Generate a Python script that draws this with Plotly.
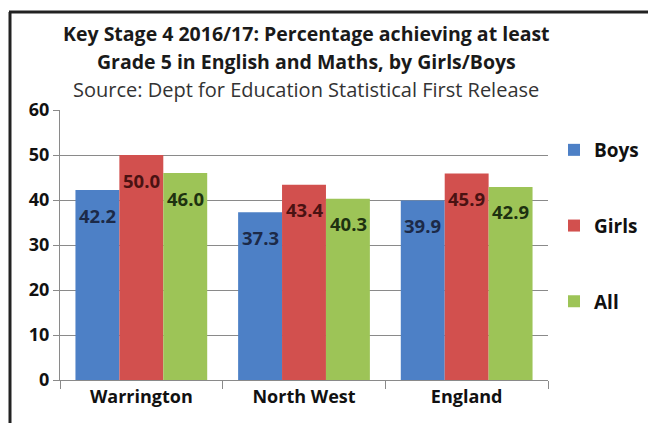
import plotly.graph_objects as go

# data
areas = ["Warrington", "North West", "England"]
boys = [42.2, 37.3, 39.9]
girls = [50.0, 43.4, 45.9]
all_pupils = [46.0, 40.3, 42.9]

series = [
    ("Boys", boys, "#4D80C6", "#1C2A48"),
    ("Girls", girls, "#D2504E", "#4A1212"),
    ("All", all_pupils, "#9DC457", "#1E3210"),
]

# the page puts the figure 8px in from the top-left corner
OFF = 8
W, H = 646, 415
L, T, R = 60 - OFF, 110 - OFF, 0
B = H - (380 - OFF)
PW, PH = W - L - R, H - T - B
PLOT_RIGHT = 548  # right end of the plot area in the reference


def px(xp):
    # reference x pixel -> paper coordinate
    return (xp - OFF - L) / PW


def py(yp):
    return (H - B - (yp - OFF)) / PH


FONT = "Open Sans"

fig = go.Figure()
for name, vals, col, txtcol in series:
    fig.add_trace(go.Bar(
        x=areas, y=vals, name=name, marker_color=col,
        marker_line_width=0, legendgroup=name,
    ))

# value labels, a little below the top of each bar
annotations = []
for i, (name, vals, col, txtcol) in enumerate(series):
    for a, v in zip(areas, vals):
        annotations.append(dict(
            x=a, y=v, xref="x", yref="y", text="<b>%.1f</b>" % v, showarrow=False,
            xshift=(i - 1) * 44, yshift=-25, yanchor="middle",
            font=dict(family=FONT, size=18.5, color=txtcol),
        ))

# title block
title_lines = [
    (33, "<b>Key Stage 4 2016/17: Percentage achieving at least</b>", 19.5, "#1a1a1a"),
    (62, "<b>Grade 5 in English and Maths, by Girls/Boys</b>", 19.5, "#1a1a1a"),
    (90, "Source: Dept for Education Statistical First Release", 20, "#333"),
]
for ypix, txt, size, col in title_lines:
    annotations.append(dict(
        x=px(306), y=py(ypix), xref="paper", yref="paper", showarrow=False,
        xanchor="center", yanchor="middle", text=txt,
        font=dict(family=FONT, size=size, color=col),
    ))

# frame lines around the picture
shapes = [
    dict(type="line", xref="paper", yref="paper", x0=px(10), x1=px(10), y0=py(430), y1=py(12),
         line=dict(color="#222", width=3)),
    dict(type="line", xref="paper", yref="paper", x0=px(9), x1=px(656), y0=py(12), y1=py(12),
         line=dict(color="#222", width=3)),
]

fig.update_layout(
    width=W, height=H,
    margin=dict(l=L, r=R, t=T, b=B),
    paper_bgcolor="white", plot_bgcolor="white",
    barmode="group", bargap=0.19, bargroupgap=0,
    showlegend=True,
    legend=dict(x=px(554), y=py(131), xanchor="left", yanchor="top",
                font=dict(family=FONT, size=19, color="#111", weight="bold"),
                tracegroupgap=48, itemwidth=30, bgcolor="rgba(0,0,0,0)"),
    annotations=annotations,
    shapes=shapes,
)
fig.update_yaxes(range=[0, 60], dtick=10, showgrid=True, gridcolor="#8a8a8a", gridwidth=1,
                 showline=True, linecolor="#8a8a8a", ticks="outside", ticklen=6,
                 tickcolor="#8a8a8a", zeroline=False,
                 tickfont=dict(family=FONT, size=18, color="#111", weight="bold"))
fig.update_xaxes(domain=[0, px(PLOT_RIGHT)],
                 showline=True, linecolor="#8a8a8a", ticks="outside", tickson="boundaries",
                 ticklen=8, tickcolor="#8a8a8a",
                 tickfont=dict(family=FONT, size=18, color="#111", weight="bold"))

fig.write_html("out.html", config={"displayModeBar": False})
